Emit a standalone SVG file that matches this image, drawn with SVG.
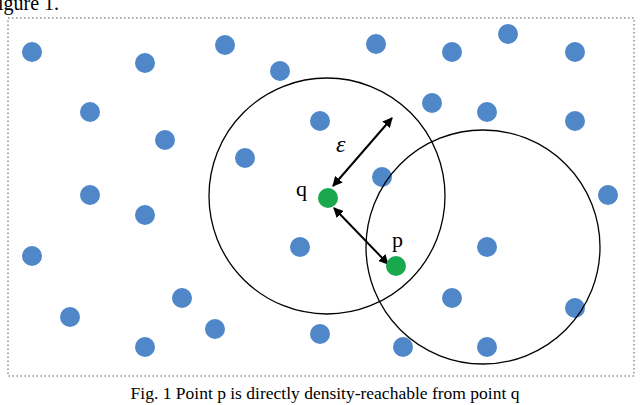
<svg xmlns="http://www.w3.org/2000/svg" width="640" height="405" viewBox="0 0 640 405">
<defs>
<style>
.d{fill:#4f87c9}
.g{fill:#1aa84f}
.c{fill:none;stroke:#000;stroke-width:1.3}
.a{stroke:#000;stroke-width:2;marker-start:url(#m);marker-end:url(#m)}
text{font-family:"Liberation Serif",serif;fill:#000}
</style>
<marker id="m" viewBox="0 0 10 10" refX="9" refY="5" markerWidth="5" markerHeight="5" orient="auto-start-reverse"><path d="M0,0L10,5L0,10z" fill="#000"/></marker>
</defs>
<rect width="640" height="405" fill="#fff"/>
<text x="-2" y="10" font-size="20">igure 1.</text>
<rect x="8" y="18" width="626" height="358" fill="none" stroke="#555" stroke-dasharray="1.5,2.5"/>
<g id="points">
<circle class="d" cx="32" cy="52" r="10"/><circle class="d" cx="145" cy="63" r="10"/><circle class="d" cx="225" cy="45" r="10"/><circle class="d" cx="280" cy="71" r="10"/><circle class="d" cx="376" cy="44" r="10"/><circle class="d" cx="452" cy="52" r="10"/><circle class="d" cx="508" cy="34" r="10"/><circle class="d" cx="575" cy="52" r="10"/>
<circle class="d" cx="90" cy="112" r="10"/><circle class="d" cx="165" cy="140" r="10"/><circle class="d" cx="320" cy="121" r="10"/><circle class="d" cx="432" cy="103" r="10"/><circle class="d" cx="487" cy="112" r="10"/><circle class="d" cx="575" cy="121" r="10"/>
<circle class="d" cx="245" cy="158" r="10"/><circle class="d" cx="382" cy="177" r="10"/><circle class="d" cx="90" cy="195" r="10"/><circle class="d" cx="145" cy="215" r="10"/><circle class="d" cx="608" cy="195" r="10"/>
<circle class="d" cx="32" cy="256" r="10"/><circle class="d" cx="300" cy="247" r="10"/><circle class="d" cx="487" cy="247" r="10"/>
<circle class="d" cx="182" cy="298" r="10"/><circle class="d" cx="70" cy="317" r="10"/><circle class="d" cx="215" cy="329" r="10"/><circle class="d" cx="320" cy="334" r="10"/><circle class="d" cx="452" cy="298" r="10"/><circle class="d" cx="575" cy="308" r="10"/>
<circle class="d" cx="145" cy="347" r="10"/><circle class="d" cx="403" cy="347" r="10"/><circle class="d" cx="487" cy="347" r="10"/>
</g>
<g id="circles">
<circle class="c" cx="327" cy="196" r="118"/>
<circle class="c" cx="483" cy="247" r="117"/>
</g>
<g id="connectors">
<line class="a" x1="392" y1="118" x2="333" y2="186"/>
<line class="a" x1="334" y1="208" x2="388" y2="264"/>
</g>
<g id="q"><circle class="g" cx="328" cy="198" r="10"/><text x="296" y="196" font-size="22">q</text></g>
<g id="p"><circle class="g" cx="396" cy="266" r="10"/><text x="392" y="247" font-size="22">p</text></g>
<text x="336" y="152" font-size="24" font-style="italic">ε</text>
<text x="325" y="399" font-size="17.5" text-anchor="middle">Fig. 1 Point p is directly density-reachable from point q</text>
</svg>
